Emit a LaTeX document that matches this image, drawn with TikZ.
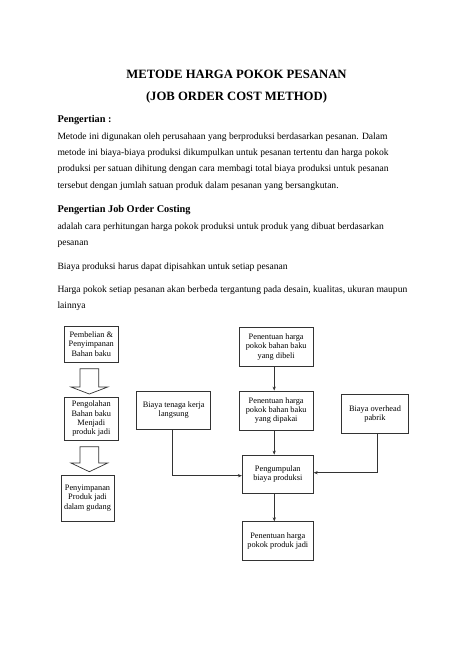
\documentclass[tikz,border=0pt]{standalone}
\usepackage{fontspec}
\setmainfont{Liberation Serif}
\usetikzlibrary{arrows.meta}

\tikzset{
	txt/.style={anchor=base west, inner sep=0pt, font=\fontsize{9.56}{11}\selectfont},
	head/.style={anchor=base west, inner sep=0pt, font=\bfseries\fontsize{10.3}{12}\selectfont},
	ttl/.style={anchor=base, inner sep=0pt, font=\bfseries\fontsize{12.7}{14}\selectfont},
	box/.style={draw=black!80, line width=0.8pt, align=center, inner sep=1pt, font=\fontsize{8.3}{9.3}\selectfont},
	hollow/.style={draw=black!80, line width=0.7pt, fill=white},
	arr/.style={draw=black!80, line width=0.6pt, -{Stealth[length=4pt, width=3.2pt]}}
}

\begin{document}
\begin{tikzpicture}[x=1pt, y=-1pt]
	\useasboundingbox (0,0) rectangle (474,670);
		\node[ttl](t1) at (236.5,78.5) {METODE HARGA POKOK PESANAN};
		\node[ttl](t2) at (236.5,100.5) {(JOB ORDER COST METHOD)};
		\node[head](h1) at (57.3,122.5) {Pengertian :};
		\node[txt](p1) at (57.3,139) {Metode ini digunakan oleh perusahaan yang berproduksi berdasarkan pesanan. Dalam};
		\node[txt](p2) at (57.3,155.3) {metode ini biaya-biaya produksi dikumpulkan untuk pesanan tertentu dan harga pokok};
		\node[txt](p3) at (57.3,171.6) {produksi per satuan dihitung dengan cara membagi total biaya produksi untuk pesanan};
		\node[txt](p4) at (57.3,188) {tersebut dengan jumlah satuan produk dalam pesanan yang bersangkutan.};
		\node[head](h2) at (57.3,212.5) {Pengertian Job Order Costing};
		\node[txt](q1) at (57.3,229) {adalah cara perhitungan harga pokok produksi untuk produk yang dibuat berdasarkan};
		\node[txt](q2) at (57.3,245.5) {pesanan};
		\node[txt](q3) at (57.3,269) {Biaya produksi harus dapat dipisahkan untuk setiap pesanan};
		\node[txt](q4) at (57.3,292) {Harga pokok setiap pesanan akan berbeda tergantung pada desain, kualitas, ukuran maupun};
		\node[txt](q5) at (57.3,308.5) {lainnya};

		\node[box, minimum width=54pt, minimum height=36pt](beli) at (91.3,344) {Pembelian \&\\Penyimpanan\\Bahan baku};
		\node[box, minimum width=54pt, minimum height=42.7pt](olah) at (91.3,418.7) {Pengolahan\\Bahan baku\\Menjadi\\produk jadi};
		\node[box, minimum width=53pt, minimum height=46pt](gudang) at (87.5,498) {Penyimpanan\\Produk jadi\\dalam gudang};
		\draw[hollow] (80,368.7) -- (98.7,368.7) -- (98.7,387) -- (107.7,387) -- (89.3,394) -- (71,387) -- (80,387) -- cycle;
		\draw[hollow] (80,446.7) -- (98.7,446.7) -- (98.7,463) -- (107.7,463) -- (89.3,471.7) -- (71,463) -- (80,463) -- cycle;

		\node[box, minimum width=74pt, minimum height=38.3pt](tenaga) at (173.7,410.2) {Biaya tenaga kerja\\langsung};
		\node[box, minimum width=74.3pt, minimum height=39.4pt](dibeli) at (276.2,347) {Penentuan harga\\pokok bahan baku\\yang dibeli};
		\node[box, minimum width=74.3pt, minimum height=39pt](dipakai) at (276.2,410.5) {Penentuan harga\\pokok bahan baku\\yang dipakai};
		\node[box, minimum width=66.6pt, minimum height=38.6pt](overhead) at (375,414) {Biaya overhead\\pabrik};
		\node[box, minimum width=71pt, minimum height=38.3pt](kumpul) at (277.8,474.2) {Pengumpulan\\biaya produksi};
		\node[box, minimum width=71pt, minimum height=38.3pt](jadi) at (277.8,540.9) {Penentuan harga\\pokok produk jadi};

		\draw[arr] ([xshift=-2pt]dibeli.south) -- ([xshift=-2pt]dibeli.south |- dipakai.north);
		\draw[arr] ([xshift=-2pt]dipakai.south) -- ([xshift=-2pt]dipakai.south |- kumpul.north);
		\draw[arr] ([xshift=-3.5pt]kumpul.south) -- ([xshift=-3.5pt]kumpul.south |- jadi.north);
		\draw[arr] ([xshift=-1.4pt]tenaga.south) |- ([yshift=-1.5pt]kumpul.west);
		\draw[arr] ([xshift=2pt]overhead.south) |- ([yshift=1.5pt]kumpul.east);
	\end{tikzpicture}
\end{document}
